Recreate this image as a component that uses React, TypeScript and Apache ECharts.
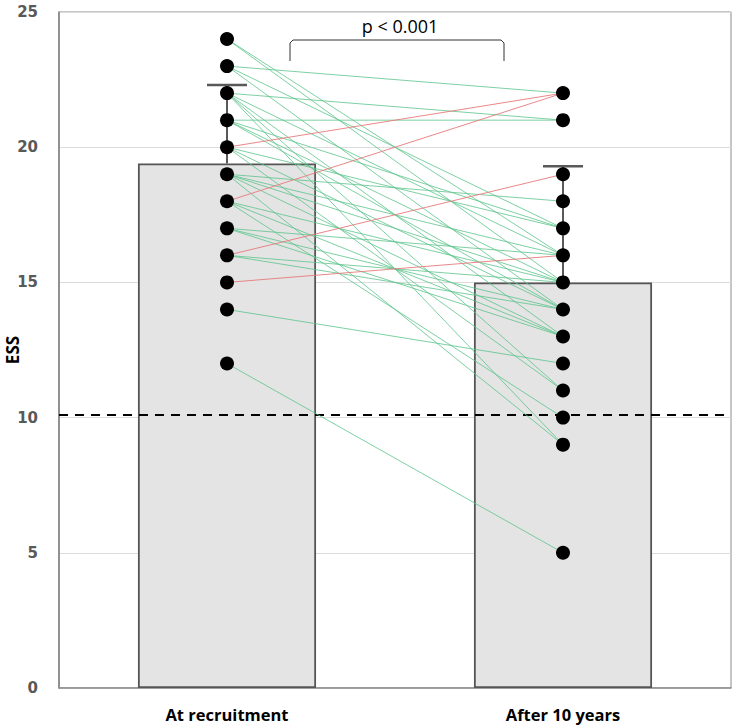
import React, { useEffect, useRef } from "react";
import * as echarts from "echarts";

const categories = ["At recruitment", "After 10 years"];
const barMeans = [19.4, 15.0];
const errorTops = [22.3, 19.3];
const threshold = 10.1;
const yTicks = { min: 0, max: 25, interval: 5 };

// paired subjects: [at recruitment, after 10 years]
const greenPairs: [number, number][] = [
  [24, 16], [24, 15],
  [23, 22], [23, 17], [23, 14],
  [22, 21], [22, 16], [22, 13], [22, 11], [22, 9],
  [21, 21], [21, 17], [21, 15], [21, 14],
  [20, 17], [20, 14], [20, 11],
  [19, 18], [19, 16], [19, 15], [19, 13], [19, 9],
  [18, 15], [18, 13], [18, 10],
  [17, 16], [17, 14], [17, 13],
  [16, 15], [16, 14],
  [14, 12],
  [12, 5],
];
const redPairs: [number, number][] = [
  [20, 22], [18, 22], [16, 19], [15, 16],
];

const pValueText = "p < 0.001";

export default function App() {
  const ref = useRef<HTMLDivElement>(null);
  useEffect(() => {
    document.body.style.margin = "0";
    const chart = echarts.init(ref.current!, null, { renderer: "svg" });
    const allPairs = [...greenPairs, ...redPairs];
    const leftDots = Array.from(new Set(allPairs.map((p) => p[0])));
    const rightDots = Array.from(new Set(allPairs.map((p) => p[1])));

    const lineSeries: any[] = [];
    greenPairs.forEach((p) =>
      lineSeries.push({
        type: "line",
        data: [p[0], p[1]],
        symbol: "none",
        z: 3,
        silent: true,
        lineStyle: { color: "#5cc48c", width: 0.8 },
      })
    );
    redPairs.forEach((p) =>
      lineSeries.push({
        type: "line",
        data: [p[0], p[1]],
        symbol: "none",
        z: 3,
        silent: true,
        lineStyle: { color: "#e87a7a", width: 0.9 },
      })
    );

    chart.setOption({
      animation: false,
      grid: {
        left: 59,
        right: 3,
        top: 12,
        bottom: 39,
        containLabel: false,
        outerBoundsMode: "none",
        show: true,
        borderColor: "#8c8c8c",
        borderWidth: 1,
      },
      xAxis: {
        type: "category",
        data: categories,
        boundaryGap: true,
        axisLine: { lineStyle: { color: "#8c8c8c", width: 1.5 } },
        axisTick: { show: false },
        axisLabel: {
          color: "#000",
          fontWeight: "bold",
          fontSize: 16.5,
          fontFamily: "Open Sans",
          margin: 18,
        },
      },
      yAxis: {
        type: "value",
        min: yTicks.min,
        max: yTicks.max,
        interval: yTicks.interval,
        name: "ESS",
        nameLocation: "middle",
        nameRotate: 90,
        nameGap: 38,
        nameMoveOverlap: false,
        nameTextStyle: {
          color: "#000",
          fontWeight: "bold",
          fontSize: 17,
          fontFamily: "Open Sans",
        },
        axisLine: { show: true, lineStyle: { color: "#7f7f7f", width: 1.5 } },
        axisTick: { show: false },
        axisLabel: {
          color: "#595959",
          fontWeight: "bold",
          fontSize: 15,
          fontFamily: "DejaVu Sans",
          margin: 21,
        },
        splitLine: { lineStyle: { color: "#dcdcdc", width: 1 } },
      },
      series: [
        {
          type: "bar",
          data: barMeans,
          barWidth: "53%",
          z: 1,
          silent: true,
          itemStyle: { color: "#e4e4e4", borderColor: "#555", borderWidth: 1.8 },
          markLine: {
            silent: true,
            symbol: "none",
            label: { show: false },
            z: 2,
            lineStyle: { color: "#000", type: [9, 7], width: 2 },
            data: [{ yAxis: threshold }],
          },
        },
        ...lineSeries,
        {
          type: "custom",
          z: 4,
          silent: true,
          data: errorTops.map((t, i) => [i, barMeans[i], t]),
          renderItem: (params: any, api: any) => {
            const base = api.coord([api.value(0), api.value(1)]);
            const top = api.coord([api.value(0), api.value(2)]);
            return {
              type: "group",
              children: [
                {
                  type: "line",
                  shape: { x1: base[0], y1: base[1], x2: top[0], y2: top[1] },
                  style: { stroke: "#595959", lineWidth: 2 },
                },
                {
                  type: "line",
                  shape: { x1: top[0] - 20, y1: top[1], x2: top[0] + 20, y2: top[1] },
                  style: { stroke: "#595959", lineWidth: 2.5 },
                },
              ],
            };
          },
        },
        {
          type: "scatter",
          z: 5,
          silent: true,
          symbolSize: 14,
          itemStyle: { color: "#000", opacity: 1 },
          data: [
            ...leftDots.map((v) => [0, v]),
            ...rightDots.map((v) => [1, v]),
          ],
        },
      ],
      graphic: [
        {
          type: "polyline",
          z: 10,
          shape: {
            points: [
              [290, 61], [290, 43], [293, 40], [501, 40], [504, 43], [504, 61],
            ],
          },
          style: { stroke: "#333", lineWidth: 1, fill: "none" },
        },
        {
          type: "text",
          z: 10,
          x: 400,
          y: 26,
          style: {
            text: pValueText,
            fill: "#000",
            fontSize: 18,
            fontFamily: "Open Sans",
            align: "center",
            verticalAlign: "middle",
          },
        },
      ],
    });
    return () => chart.dispose();
  }, []);
  return <div ref={ref} style={{ width: 734, height: 727 }} />;
}
